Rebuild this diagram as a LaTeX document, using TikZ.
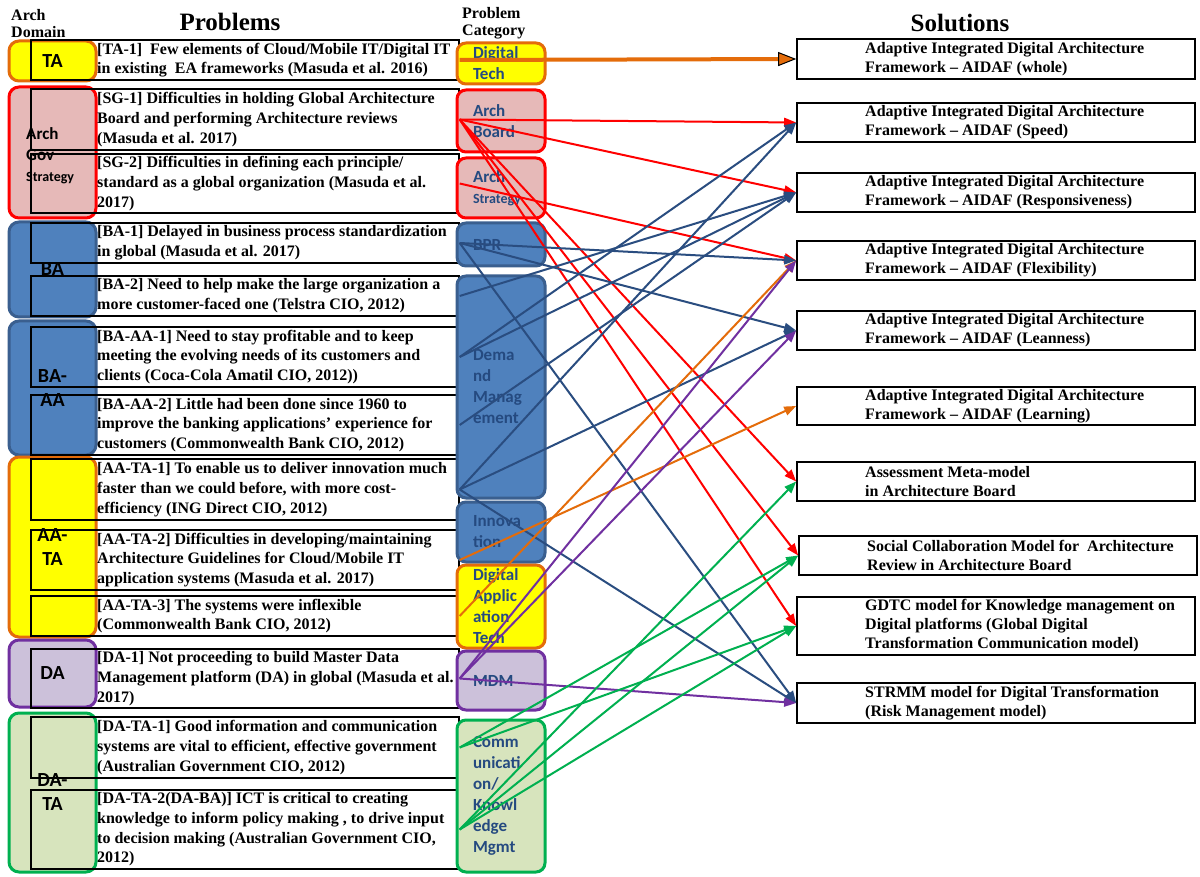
\documentclass[tikz,border=0pt]{standalone}
\usepackage{fontspec}
\setmainfont{Liberation Serif}
\newfontfamily\carlito{Carlito}
\usetikzlibrary{arrows.meta}

\definecolor{domblue}{HTML}{4F81BD}
\definecolor{domblueline}{HTML}{3A5F8F}
\definecolor{pinkfill}{HTML}{E6B9B8}
\definecolor{yel}{HTML}{FFFF00}
\definecolor{orangec}{HTML}{E46C0A}
\definecolor{lavfill}{HTML}{CCC1DA}
\definecolor{purplec}{HTML}{7030A0}
\definecolor{greenfill}{HTML}{D7E4BD}
\definecolor{greenc}{HTML}{00B050}
\definecolor{redc}{HTML}{FF0000}
\definecolor{linkblue}{HTML}{2A4D80}
\definecolor{cattext}{HTML}{254A80}

\begin{document}
\begin{tikzpicture}[x=1pt,y=-1pt,
  dom/.style={rounded corners=10pt, line width=3pt, minimum width=87pt, inner sep=0pt,
    font=\carlito\bfseries\fontsize{20}{24}\selectfont, align=center},
  prob/.style={draw=black, line width=1.4pt, minimum width=428pt, inner sep=0pt},
  ptext/.style={anchor=west, inner sep=0pt, align=left, font=\bfseries\fontsize{16}{19.7}\selectfont},
  cat/.style={rounded corners=9pt, line width=3pt, minimum width=88pt, text width=56pt,
    inner sep=0pt, align=left, text=cattext, font=\carlito\bfseries\fontsize{17}{21}\selectfont},
  sol/.style={draw=black, line width=1.6pt, minimum width=398pt, inner sep=0pt},
  stext/.style={anchor=west, inner sep=0pt, align=left, font=\bfseries\fontsize{16}{19}\selectfont},
  head/.style={inner sep=0pt, font=\bfseries\fontsize{25}{25}\selectfont},
  subhead/.style={anchor=west, inner sep=0pt, align=left, font=\bfseries\fontsize{16}{17}\selectfont},
  link/.style={line width=2pt, -{Triangle[length=12pt,width=9pt]}},
]
\useasboundingbox[fill=white] (0,0) rectangle (1200,877);

% column headings
\node[subhead] (hdom) at (11,23.5) {Arch\\Domain};
\node[head] (hprob) at (230,22) {Problems};
\node[subhead] (hcat) at (462,23.5) {Problem\\Category};
\node[head] (hsol) at (960,23) {Solutions};

% architecture domains
\node[dom, fill=yel, draw=orangec, minimum height=40pt] (dTA) at (52.5,61) {TA};
\node[dom, fill=pinkfill, draw=redc, minimum height=131pt] (dSG) at (52.5,152.5) {};
\node[inner sep=0pt, anchor=west, align=left, font=\carlito\bfseries\fontsize{17}{21}\selectfont]
  (dSGt) at (26,156) {Arch\\Gov\\{\fontsize{14}{17}\selectfont Strategy}};
\node[dom, fill=domblue, draw=domblueline, minimum height=95pt] (dBA) at (52.5,269.5) {BA};
\node[dom, fill=domblue, draw=domblueline, minimum height=134pt] (dBAAA) at (52.5,388) {BA-\\AA};
\node[dom, fill=yel, draw=orangec, minimum height=180pt] (dAATA) at (52.5,547) {AA-\\TA};
\node[dom, fill=lavfill, draw=purplec, minimum height=67pt] (dDA) at (52.5,673.5) {DA};
\node[dom, fill=greenfill, draw=greenc, minimum height=159pt] (dDATA) at (52.5,792.5) {DA-\\TA};

% problem rows
\node[prob, minimum height=40pt] (ta1) at (245,60) {};
\node[prob, minimum height=61pt] (sg1) at (245,119.5) {};
\node[prob, minimum height=59pt] (sg2) at (245,183.5) {};
\node[prob, minimum height=40pt] (ba1) at (245,243) {};
\node[prob, minimum height=40pt] (ba2) at (245,296) {};
\node[prob, minimum height=60pt] (baaa1) at (245,357) {};
\node[prob, minimum height=60pt] (baaa2) at (245,425) {};
\node[prob, minimum height=61pt] (aata1) at (245,489.5) {};
\node[prob, minimum height=60pt] (aata2) at (245,560) {};
\node[prob, minimum height=40pt] (aata3) at (245,616) {};
\node[prob, minimum height=59pt] (da1) at (245,678.5) {};
\node[prob, minimum height=61pt] (data1) at (245,747.5) {};
\node[prob, minimum height=79pt] (data2) at (245,829.5) {};

\begin{scope}
\clip (0,0) rectangle (458,877);
\node[ptext] (ta1t) at (97,60) {[TA-1]\ \ Few elements of Cloud/Mobile IT/Digital IT\\in existing\ \ EA frameworks (Masuda et al. 2016)};
\node[ptext] (sg1t) at (97,119.5) {[SG-1] Difficulties in holding Global Architecture\\Board and performing Architecture reviews\\(Masuda et al. 2017)};
\node[ptext] (sg2t) at (97,183.5) {[SG-2] Difficulties in defining each principle/\\standard as a global organization (Masuda et al.\\2017)};
\node[ptext] (ba1t) at (97,243) {[BA-1] Delayed in business process standardization\\in global (Masuda et al. 2017)};
\node[ptext] (ba2t) at (97,296) {[BA-2] Need to help make the large organization a\\more customer-faced one (Telstra CIO, 2012)};
\node[ptext] (baaa1t) at (97,357) {[BA-AA-1] Need to stay profitable and to keep\\meeting the evolving needs of its customers and\\clients (Coca-Cola Amatil CIO, 2012))};
\node[ptext] (baaa2t) at (97,425) {[BA-AA-2] Little had been done since 1960 to\\improve the banking applications' experience for\\customers (Commonwealth Bank CIO, 2012)};
\node[ptext] (aata1t) at (97,489.5) {[AA-TA-1] To enable us to deliver innovation much\\faster than we could before, with more cost-\\efficiency (ING Direct CIO, 2012)};
\node[ptext] (aata2t) at (97,560) {[AA-TA-2] Difficulties in developing/maintaining\\Architecture Guidelines for Cloud/Mobile IT\\application systems (Masuda et al. 2017)};
\node[ptext] (aata3t) at (97,616) {[AA-TA-3] The systems were inflexible\\(Commonwealth Bank CIO, 2012)};
\node[ptext] (da1t) at (97,678.5) {[DA-1] Not proceeding to build Master Data\\Management platform (DA) in global (Masuda et al.\\2017)};
\node[ptext] (data1t) at (97,747.5) {[DA-TA-1] Good information and communication\\systems are vital to efficient, effective government\\(Australian Government CIO, 2012)};
\node[ptext] (data2t) at (97,829.5) {[DA-TA-2(DA-BA)] ICT is critical to creating\\knowledge to inform policy making , to drive input\\to decision making (Australian Government CIO,\\2012)};
\end{scope}

% problem categories
\node[cat, fill=yel, draw=orangec, minimum height=41pt] (cDT) at (501,63.5) {Digital\\Tech};
\node[cat, fill=pinkfill, draw=redc, minimum height=62pt] (cAB) at (501,121) {Arch\\Board};
\node[cat, fill=pinkfill, draw=redc, minimum height=60pt] (cAS) at (501,188) {Arch\\{\fontsize{14}{17}\selectfont Strategy}};
\node[cat, fill=domblue, draw=domblueline, minimum height=43pt] (cBPR) at (501,244.5) {BPR};
\node[cat, fill=domblue, draw=domblueline, minimum height=222pt] (cDM) at (501,387) {Dema\\nd\\Manag\\ement};
\node[cat, fill=domblue, draw=domblueline, minimum height=60pt] (cIN) at (501,532) {Innova\\tion};
\node[cat, fill=yel, draw=orangec, minimum height=83pt] (cDAT) at (501,606.5) {Digital\\Applic\\ation\\Tech};
\node[cat, fill=lavfill, draw=purplec, minimum height=59pt] (cMDM) at (501,680.5) {MDM};
\node[cat, fill=greenfill, draw=greenc, minimum height=152pt] (cCK) at (501,796) {Comm\\unicati\\on/\\Knowl\\edge\\Mgmt};

% solutions
\node[sol, minimum height=40pt] (sW) at (996,59) {};
\node[sol, minimum height=39pt] (sS) at (996,122.5) {};
\node[sol, minimum height=39pt] (sR) at (996,192.5) {};
\node[sol, minimum height=39pt] (sF) at (996,260.5) {};
\node[sol, minimum height=39pt] (sL) at (996,330.5) {};
\node[sol, minimum height=38pt] (sG) at (996,406) {};
\node[sol, minimum height=39pt] (sA) at (996,481.5) {};
\node[sol, minimum height=39pt] (sC) at (998,555.5) {};
\node[sol, minimum height=58pt] (sK) at (996,626) {};
\node[sol, minimum height=40pt] (sM) at (996,703) {};

\node[stext] (sWt) at (865,59) {Adaptive Integrated Digital Architecture\\Framework -- AIDAF (whole)};
\node[stext] (sSt) at (865,122.5) {Adaptive Integrated Digital Architecture\\Framework -- AIDAF (Speed)};
\node[stext] (sRt) at (865,192.5) {Adaptive Integrated Digital Architecture\\Framework -- AIDAF (Responsiveness)};
\node[stext] (sFt) at (865,260.5) {Adaptive Integrated Digital Architecture\\Framework -- AIDAF (Flexibility)};
\node[stext] (sLt) at (865,330.5) {Adaptive Integrated Digital Architecture\\Framework -- AIDAF (Leanness)};
\node[stext] (sGt) at (865,406) {Adaptive Integrated Digital Architecture\\Framework -- AIDAF (Learning)};
\node[stext] (sAt) at (865,481.5) {Assessment Meta-model\\in Architecture Board};
\node[stext] (sCt) at (867,555.5) {Social Collaboration Model for\ \ Architecture\\Review in Architecture Board};
\node[stext] (sKt) at (865,626) {GDTC model for Knowledge management on\\Digital platforms (Global Digital\\Transformation Communication model)};
\node[stext] (sMt) at (865,703) {STRMM model for Digital Transformation\\(Risk Management model)};

% connectors
\draw[line width=4pt, orangec, -{Triangle[length=18pt,width=14pt,color=black,fill=orangec,line width=1pt]}] (ta1.east) -- (sW.west);

\draw[link, redc] (sg1.east) -- (sS.west);
\draw[link, redc] (sg1.east) -- (sR.west);
\draw[link, redc] (sg1.east) -- (sA.west);
\draw[link, redc] (sg1.east) -- (sC.west);
\draw[link, redc] (sg1.east) -- (sK.west);
\draw[link, redc] (sg2.east) -- (sF.west);

\draw[link, linkblue] (ba1.east) -- (sF.west);
\draw[link, linkblue] (ba1.east) -- (sL.west);
\draw[link, linkblue] (ba1.east) -- (sM.west);
\draw[link, linkblue] (ba2.east) -- (sR.west);
\draw[link, linkblue] (baaa1.east) -- (sS.west);
\draw[link, linkblue] (baaa1.east) -- (sR.west);
\draw[link, linkblue] (baaa2.east) -- (sR.west);
\draw[link, linkblue] (aata1.east) -- (sS.west);
\draw[link, linkblue] (aata1.east) -- (sL.west);
\draw[link, linkblue] (aata1.east) -- (sM.west);

\draw[link, orangec] (aata2.east) -- (sG.west);
\draw[link, orangec] (aata3.east) -- (sF.west);

\draw[link, purplec] (da1.east) -- (sF.west);
\draw[link, purplec] (da1.east) -- (sL.west);
\draw[link, purplec] (da1.east) -- (sM.west);

\draw[link, greenc] (data1.east) -- (sC.west);
\draw[link, greenc] (data1.east) -- (sK.west);
\draw[link, greenc] (data2.east) -- (sA.west);
\draw[link, greenc] (data2.east) -- (sC.west);
\draw[link, greenc] (data2.east) -- (sK.west);
\end{tikzpicture}
\end{document}
